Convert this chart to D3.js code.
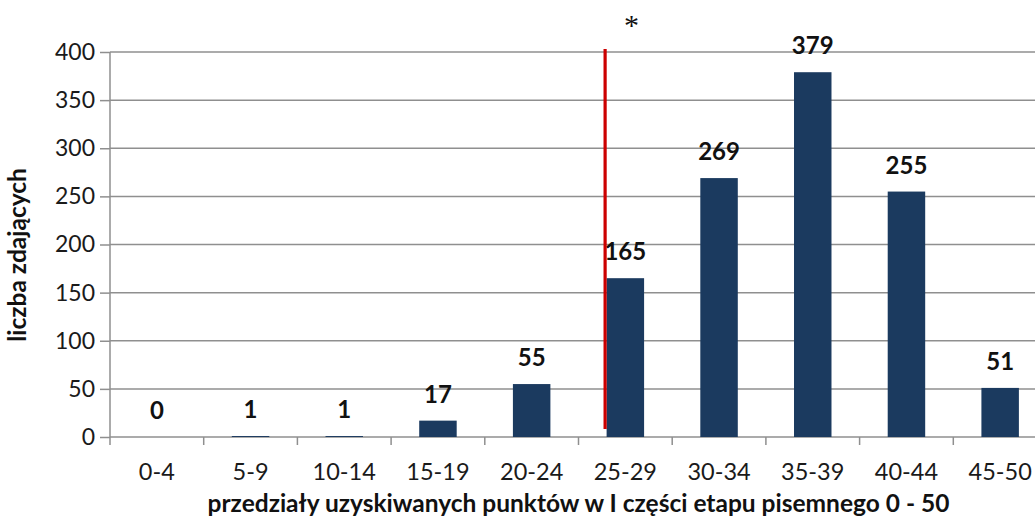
<!DOCTYPE html>
<html><head><meta charset="utf-8">
<script src="https://cdn.jsdelivr.net/npm/d3@7/dist/d3.min.js"></script>
<style>body{margin:0;background:#fff;}svg{display:block;font-family:Lato,"Open Sans",sans-serif;}</style>
</head><body>
<svg id="c" width="1035" height="522"></svg>
<script>
const categories = ["0-4","5-9","10-14","15-19","20-24","25-29","30-34","35-39","40-44","45-50"];
const values = [0,1,1,17,55,165,269,379,255,51];
const yTicks = [0,50,100,150,200,250,300,350,400];
const yTitle = "liczba zdających";
const xTitle = "przedziały uzyskiwanych punktów w I części etapu pisemnego 0 - 50";
const markerCategory = "25-29";
const markerText = "*";

(function(){
const svg = d3.select("#c");
const pLeft = 110, pRight = 1047, pTop = 52, pBottom = 437;
const grid = "#8f8f8f";
const x = d3.scaleBand().domain(categories).range([pLeft, pRight]).paddingInner(0.6).paddingOuter(0.3);
const xb = d3.scaleBand().domain(categories).range([pLeft, pRight]);
const y = d3.scaleLinear().domain([0,400]).range([pBottom, pTop]);

// gridlines
svg.append("g").selectAll("line").data(yTicks.filter(d=>d>0)).join("line")
  .attr("x1", pLeft).attr("x2", 1035).attr("y1", d=>y(d)).attr("y2", d=>y(d))
  .attr("stroke", grid).attr("stroke-width", 1.5);

// y axis
const ya = svg.append("g").attr("transform", `translate(${pLeft},0)`)
  .call(d3.axisLeft(y).tickValues(yTicks).tickSize(10).tickPadding(5));
ya.select(".domain").attr("stroke", grid).attr("stroke-width", 1.5).attr("d", `M0,${pTop}V${pBottom}`);
ya.selectAll(".tick line").attr("stroke", grid).attr("stroke-width", 1.5);
ya.selectAll(".tick text").attr("font-size", 23).attr("fill", "#1a1a1a").attr("font-family", "Lato, sans-serif");

// x axis
const xa = svg.append("g").attr("transform", `translate(0,${pBottom})`);
xa.append("line").attr("x1", pLeft).attr("x2", 1035).attr("y1", 0).attr("y2", 0)
  .attr("stroke", grid).attr("stroke-width", 1.5);
const tickPos = categories.map(c => xb(c)).concat([pRight]);
xa.selectAll("line.t").data(tickPos).join("line").attr("class","t")
  .attr("x1", d=>d).attr("x2", d=>d).attr("y1", 0).attr("y2", 8)
  .attr("stroke", grid).attr("stroke-width", 1.5);
xa.selectAll("text").data(categories).join("text")
  .attr("x", d => xb(d) + xb.bandwidth()/2).attr("y", 43)
  .attr("text-anchor", "middle").attr("font-size", 23.5).attr("fill", "#1a1a1a").text(d=>d);

// bars
svg.append("g").selectAll("rect").data(values).join("rect")
  .attr("x", (d,i) => x(categories[i])).attr("width", x.bandwidth())
  .attr("y", d => y(d)).attr("height", d => pBottom - y(d))
  .attr("fill", "#1b3a5f");

// labels
svg.append("g").selectAll("text").data(values).join("text")
  .attr("x", (d,i) => x(categories[i]) + x.bandwidth()/2)
  .attr("y", d => y(d) - 18)
  .attr("text-anchor", "middle").attr("font-size", 24).attr("font-weight", "bold").attr("fill", "#111")
  .text(d => d);

// marker line
const mx = xb(markerCategory) + xb.bandwidth()/2 - x.bandwidth()/2 - 1.5;
svg.append("line").attr("x1", mx).attr("x2", mx).attr("y1", y(400)-3).attr("y2", y(0)-8)
  .attr("stroke", "#cc0000").attr("stroke-width", 3.2);
svg.append("text").attr("x", mx + 26.5).attr("y", 35).attr("text-anchor","middle")
  .attr("font-family", "'Liberation Serif', serif").attr("font-size", 30).attr("fill", "#111").text(markerText);

// titles
svg.append("text").attr("transform", `translate(26,255) rotate(-90)`)
  .attr("text-anchor", "middle").attr("font-size", 24.5).attr("font-weight", "bold").attr("fill", "#111").text(yTitle);
svg.append("text").attr("x", (pLeft+pRight)/2).attr("y", 512).attr("text-anchor", "middle")
  .attr("font-size", 24.5).attr("font-weight", "bold").attr("fill", "#111").text(xTitle);
})();
</script>
</body></html>
